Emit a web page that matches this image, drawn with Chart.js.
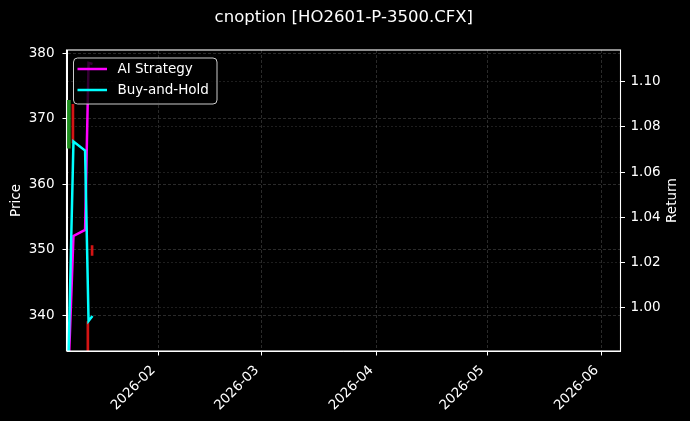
<!DOCTYPE html>
<html>
<head>
<meta charset="utf-8">
<title>cnoption [HO2601-P-3500.CFX]</title>
<script src="https://cdn.jsdelivr.net/npm/chart.js@4.4.1/dist/chart.umd.min.js"></script>
<style>
    html, body { margin: 0; padding: 0; background: #000; }
    #wrap { position: relative; width: 690px; height: 421px; }
</style>
</head>
<body>
<div id="wrap"><canvas id="priceChart"></canvas></div>
<script>
// ==================== DATA ====================
const chartTitle = 'cnoption [HO2601-P-3500.CFX]';

// Candles (price axis, left)
const candleTimes = ['2026-01-07T18:00Z', '2026-01-08T20:30Z', '2026-01-12T21:30Z', '2026-01-14T01:00Z'];
const candleOpen  = [365.5, 372.2, 339.0, 350.6];
const candleClose = [372.8, 366.3, 325.0, 349.1];

// Equity curves (return axis, right)
const returnTimes = ['2026-01-07T09:30Z', '2026-01-09T00:00Z', '2026-01-12T03:30Z', '2026-01-13T02:00Z', '2026-01-14T03:30Z'];
const aiStrategy  = [0.960, 1.0317, 1.0344, 1.1083, 1.1078];
const buyAndHold  = [0.960, 1.0735, 1.0695, 0.9941, 0.9963];

// Axis ticks
const monthTicks  = ['2026-02', '2026-03', '2026-04', '2026-05', '2026-06'];
const priceTicks  = [340, 350, 360, 370, 380];
const returnTicks = [1.00, 1.02, 1.04, 1.06, 1.08, 1.10];

// dates -> days since 2026-01-01 (linear x axis, no date adapter)
const t0 = Date.parse('2026-01-01T00:00Z');
const toDay = s => (Date.parse(s) - t0) / 864e5;

const FONT = '"DejaVu Sans"';

document.addEventListener('DOMContentLoaded', () => {
    initChart();
});

// ==================== PLUGINS ====================
// frame, title, right axis label and legend box (matplotlib look)
const decorPlugin = {
    id: 'decor',
    afterDraw(chart) {
        const { ctx, chartArea: a } = chart;
        ctx.save();

        // axes frame
        ctx.strokeStyle = '#fff';
        ctx.lineWidth = 1.1;
        ctx.strokeRect(a.left - 0.5, a.top, a.right - a.left + 0.5, a.bottom - a.top);

        // title
        ctx.fillStyle = '#fff';
        ctx.font = '16.5px ' + FONT;
        ctx.textAlign = 'center';
        ctx.textBaseline = 'middle';
        ctx.fillText(chartTitle, (a.left + a.right) / 2, 18);

        // right axis label (reads bottom to top)
        ctx.font = '13.5px ' + FONT;
        ctx.translate(672.5, (a.top + a.bottom) / 2);
        ctx.rotate(-Math.PI / 2);
        ctx.fillText('Return', 0, 0);
        ctx.restore();

        // legend
        const lines = chart.data.datasets.filter(d => d.type === 'line');
        const bx = a.left + 6.5, by = a.top + 8, bw = 143.5, bh = 46;
        ctx.save();
        ctx.beginPath();
        ctx.roundRect(bx, by, bw, bh, 4);
        ctx.fillStyle = 'rgba(0, 0, 0, 0.8)';
        ctx.fill();
        ctx.strokeStyle = '#cccccc';
        ctx.lineWidth = 1;
        ctx.stroke();
        ctx.font = '13.5px ' + FONT;
        ctx.textAlign = 'left';
        ctx.textBaseline = 'middle';
        lines.forEach((d, i) => {
            const y = by + 11 + i * 21;
            ctx.strokeStyle = d.borderColor;
            ctx.lineWidth = d.borderWidth;
            ctx.beginPath();
            ctx.moveTo(bx + 4, y);
            ctx.lineTo(bx + 33.5, y);
            ctx.stroke();
            ctx.fillStyle = '#fff';
            ctx.fillText(d.label, bx + 44, y);
        });
        ctx.restore();
    }
};

// ==================== CHART ====================
function initChart() {
    Chart.defaults.font.family = FONT;
    Chart.defaults.font.size = 13.5;
    Chart.defaults.color = '#fff';

    const upCandles = [], downCandles = [];
    candleTimes.forEach((t, i) => {
        const bar = { x: toDay(t), y: [candleOpen[i], candleClose[i]] };
        (candleClose[i] >= candleOpen[i] ? upCandles : downCandles).push(bar);
    });

    const tickMarks = { offset: false, tickColor: '#fff', tickLength: 4.5, tickWidth: 1, tickBorderDash: [] };

    const ctx = document.getElementById('priceChart').getContext('2d');
    new Chart(ctx, {
        type: 'line',
        data: {
            datasets: [{
                type: 'line',
                label: 'AI Strategy',
                data: returnTimes.map((t, i) => ({ x: toDay(t), y: aiStrategy[i] })),
                yAxisID: 'y1',
                borderColor: '#ff00ff',
                borderWidth: 2.5,
                pointRadius: 0,
                tension: 0,
                clip: 0,
                order: 1
            }, {
                type: 'line',
                label: 'Buy-and-Hold',
                data: returnTimes.map((t, i) => ({ x: toDay(t), y: buyAndHold[i] })),
                yAxisID: 'y1',
                borderColor: '#00ffff',
                borderWidth: 2.5,
                pointRadius: 0,
                tension: 0,
                clip: 0,
                order: 0
            }, {
                type: 'bar',
                label: 'Up',
                data: upCandles,
                yAxisID: 'y',
                backgroundColor: '#1f8f1f',
                grouped: false,
                barThickness: 3,
                maxBarThickness: 3,
                clip: 0,
                order: 2
            }, {
                type: 'bar',
                label: 'Down',
                data: downCandles,
                yAxisID: 'y',
                backgroundColor: '#d41414',
                grouped: false,
                barThickness: 2,
                maxBarThickness: 2,
                clip: 0,
                order: 2
            }]
        },
        options: {
            responsive: true,
            maintainAspectRatio: false,
            animation: false,
            events: [],
            layout: { padding: { top: 50, left: 0, right: 0, bottom: 0 } },
            plugins: {
                legend: { display: false },
                tooltip: { enabled: false }
            },
            scales: {
                x: {
                    type: 'linear',
                    min: toDay('2026-01-07T06:00Z'),
                    max: toDay('2026-06-06T02:30Z'),
                    bounds: 'data',
                    offset: false,
                    afterBuildTicks: s => { s.ticks = monthTicks.map(m => ({ value: toDay(m) })); },
                    afterFit: s => { s.height = 70; },
                    ticks: {
                        autoSkip: false,
                        minRotation: 45,
                        maxRotation: 45,
                        padding: 7,
                        labelOffset: -5,
                        color: '#fff',
                        callback: (v, i) => monthTicks[i]
                    },
                    grid: { color: 'rgba(255, 255, 255, 0.28)', lineWidth: 0.6, ...tickMarks },
                    border: { color: '#fff', width: 1, dash: [3, 2] }
                },
                y: {
                    type: 'linear',
                    position: 'left',
                    min: 334.5,
                    max: 380.5,
                    bounds: 'data',
                    afterBuildTicks: s => { s.ticks = priceTicks.map(v => ({ value: v })); },
                    afterFit: s => { s.width = 67; },
                    title: { display: true, text: 'Price', color: '#fff', padding: { top: 8, bottom: 0 } },
                    ticks: { padding: 8, color: '#fff', callback: v => v.toFixed(0) },
                    grid: { color: 'rgba(255, 255, 255, 0.28)', lineWidth: 0.6, ...tickMarks },
                    border: { color: '#fff', width: 1, dash: [3, 2] }
                },
                y1: {
                    type: 'linear',
                    position: 'right',
                    min: 0.9808,
                    max: 1.114,
                    bounds: 'data',
                    afterBuildTicks: s => { s.ticks = returnTicks.map(v => ({ value: v })); },
                    afterFit: s => { s.width = 69.5; },
                    ticks: { padding: 5.5, color: '#fff', callback: v => v.toFixed(2) },
                    grid: { color: 'rgba(255, 255, 255, 0.2)', lineWidth: 0.6, ...tickMarks },
                    border: { color: '#fff', width: 1, dash: [2, 2] }
                }
            }
        },
        plugins: [decorPlugin]
    });
}
</script>
</body>
</html>
